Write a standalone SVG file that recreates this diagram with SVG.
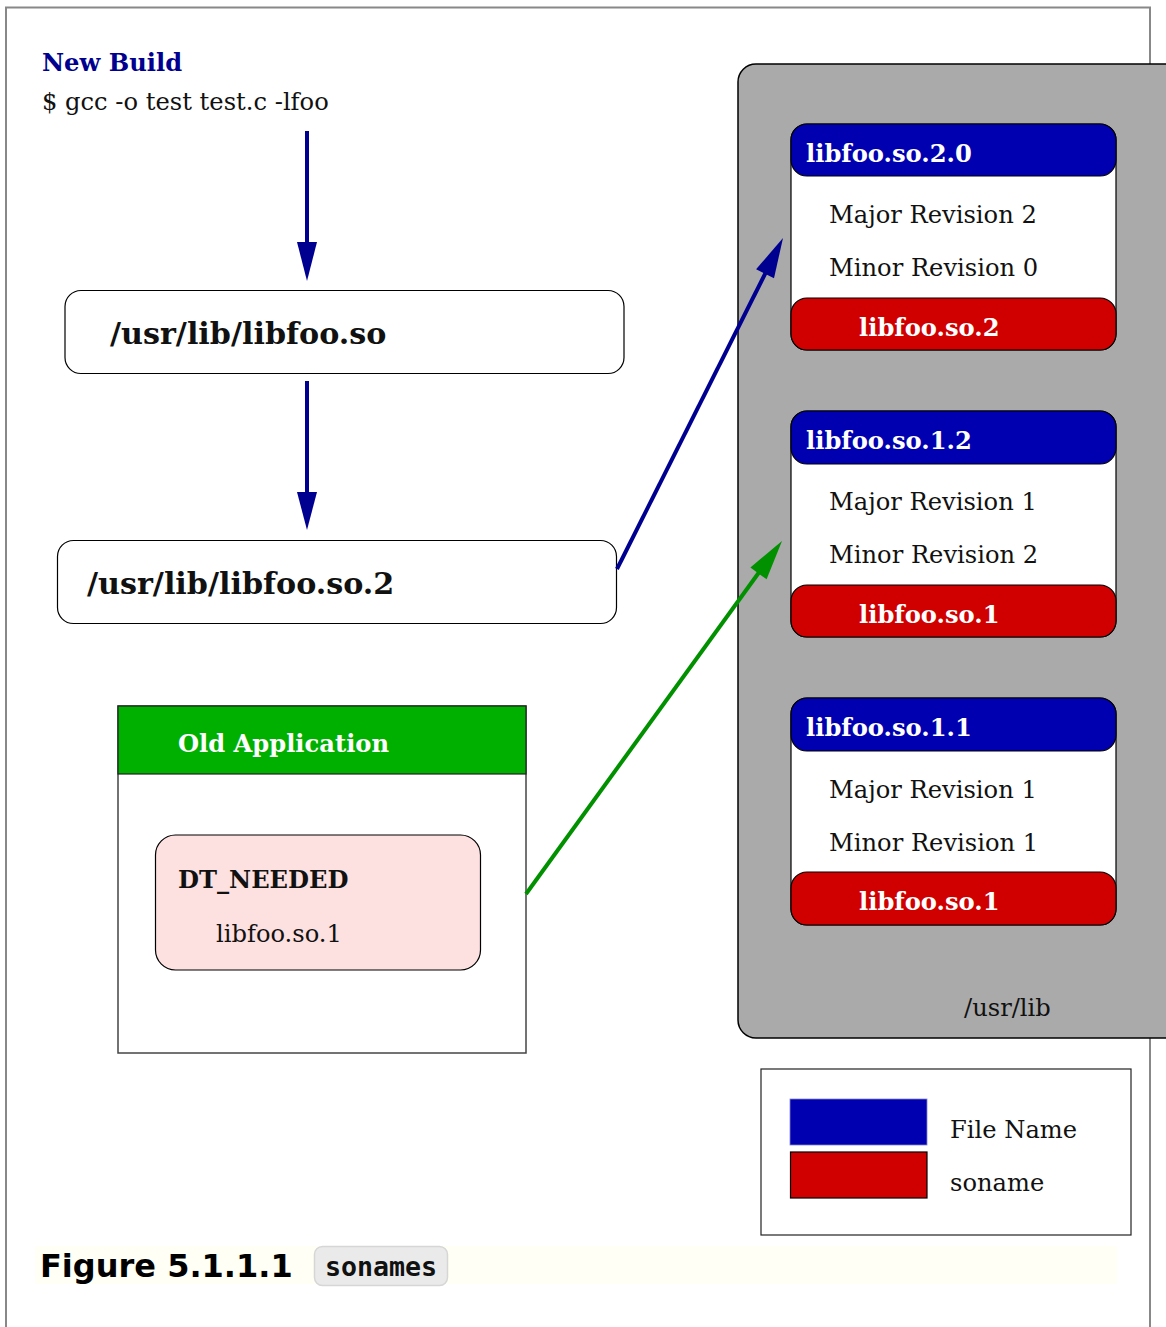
<svg xmlns="http://www.w3.org/2000/svg" width="1166" height="1327" viewBox="0 0 1166 1327">
<style>
.serif{font-family:"DejaVu Serif","Liberation Serif",serif;}
.b{font-weight:bold;}
.hdr{fill:#0000b0;stroke:#000;stroke-width:1.2;}
.ftr{fill:#d00000;stroke:#000;stroke-width:1.2;}
.wt{fill:#fff;font-weight:bold;font-size:24.2px;}
.rev{fill:#111;font-size:24.2px;}
.box{fill:#fff;stroke:#000;stroke-width:1.2;}
.bl{stroke:#000090;stroke-width:4;fill:none;}
.gr{stroke:#009000;stroke-width:4;fill:none;}
</style>
<rect x="0" y="0" width="1166" height="1327" fill="#fff"/>
<path d="M6,1327 V7.5 H1150 V1327" fill="none" stroke="#888" stroke-width="2"/>

<g id="title">
<text x="42" y="71" class="serif b" font-size="24.2" fill="#000090">New Build</text>
<text x="42" y="110" class="serif" font-size="24.2" fill="#111">$ gcc -o test test.c -lfoo</text>
</g>

<g id="libfoo-so">
<rect x="65" y="290.5" width="559" height="83" rx="16" class="box"/>
<text x="110" y="344" class="serif b" font-size="30.2" fill="#111">/usr/lib/libfoo.so</text>
</g>
<g id="libfoo-so-2">
<rect x="57.5" y="540.5" width="559" height="83" rx="16" class="box"/>
<text x="87" y="594" class="serif b" font-size="30.2" fill="#111">/usr/lib/libfoo.so.2</text>
</g>

<g id="old-app">
<rect x="118" y="706" width="408" height="347" fill="#fff" stroke="#444" stroke-width="1.5"/>
<rect x="118" y="706" width="408" height="68" fill="#00b000" stroke="#222" stroke-width="1.2"/>
<text x="178" y="752" class="serif wt">Old Application</text>
<rect x="155.5" y="835" width="325" height="135" rx="20" fill="#fde0e0" stroke="#000" stroke-width="1.2"/>
<text x="178" y="888" class="serif b" font-size="24.2" fill="#111">DT_NEEDED</text>
<text x="216" y="942" class="serif" font-size="24.2" fill="#111">libfoo.so.1</text>
</g>

<g id="usr-lib">
<rect x="738" y="64" width="450" height="974" rx="18" fill="#aaa" stroke="#000" stroke-width="1.5"/>
<text x="964" y="1016" class="serif" font-size="24.2" fill="#111">/usr/lib</text>
</g>

<g id="lib-2-0">
<rect x="791" y="124" width="325" height="226" rx="16" class="box"/>
<rect x="791" y="124" width="325" height="52" rx="16" class="hdr"/>
<rect x="791" y="298" width="325" height="52" rx="16" class="ftr"/>
<text x="806" y="162" class="serif wt">libfoo.so.2.0</text>
<text x="829" y="223" class="serif rev">Major Revision 2</text>
<text x="829" y="276" class="serif rev">Minor Revision 0</text>
<text x="859" y="336" class="serif wt">libfoo.so.2</text>
</g>
<g id="lib-1-2">
<rect x="791" y="411" width="325" height="226" rx="16" class="box"/>
<rect x="791" y="411" width="325" height="53" rx="16" class="hdr"/>
<rect x="791" y="585" width="325" height="52" rx="16" class="ftr"/>
<text x="806" y="449" class="serif wt">libfoo.so.1.2</text>
<text x="829" y="510" class="serif rev">Major Revision 1</text>
<text x="829" y="563" class="serif rev">Minor Revision 2</text>
<text x="859" y="623" class="serif wt">libfoo.so.1</text>
</g>
<g id="lib-1-1">
<rect x="791" y="698" width="325" height="227" rx="16" class="box"/>
<rect x="791" y="698" width="325" height="53" rx="16" class="hdr"/>
<rect x="791" y="872" width="325" height="53" rx="16" class="ftr"/>
<text x="806" y="736" class="serif wt">libfoo.so.1.1</text>
<text x="829" y="798" class="serif rev">Major Revision 1</text>
<text x="829" y="851" class="serif rev">Minor Revision 1</text>
<text x="859" y="910" class="serif wt">libfoo.so.1</text>
</g>

<g id="legend">
<rect x="761" y="1069" width="370" height="166" fill="#fff" stroke="#222" stroke-width="1.2"/>
<rect x="790" y="1099" width="137" height="46" fill="#0000b0" stroke="#8080d0" stroke-width="0.8"/>
<rect x="790.5" y="1152" width="136.5" height="46" fill="#d00000" stroke="#000" stroke-width="1.2"/>
<text x="950" y="1138" class="serif" font-size="24.2" fill="#111">File Name</text>
<text x="950" y="1191" class="serif" font-size="24.2" fill="#111">soname</text>
</g>

<g id="connectors">
<line x1="307" y1="131" x2="307" y2="245" class="bl"/>
<polygon points="297,242 317,242 307,281" fill="#000090"/>
<line x1="307" y1="381" x2="307" y2="495" class="bl"/>
<polygon points="297,492 317,492 307,530" fill="#000090"/>
<line x1="617" y1="569" x2="767" y2="270" class="bl"/>
<polygon points="783,238 774,278.2 756.1,269.3" fill="#000090"/>
<line x1="526" y1="894" x2="760" y2="571" class="gr"/>
<polygon points="782,541 766.6,579.3 750.4,567.5" fill="#009000"/>
</g>

<g id="caption">
<rect x="35" y="1246" width="1082" height="38" fill="#fffff5"/>
<text x="40" y="1277" font-family="DejaVu Sans, Liberation Sans, sans-serif" font-weight="bold" font-size="32" fill="#000">Figure 5.1.1.1</text>
<rect x="314.5" y="1246.5" width="133" height="39" rx="8" fill="#eaeaea" stroke="#d6d6d6" stroke-width="1.5"/>
<text x="325" y="1276" font-family="DejaVu Sans Mono, Liberation Mono, monospace" font-weight="bold" font-size="26.6" fill="#111">sonames</text>
</g>
</svg>
